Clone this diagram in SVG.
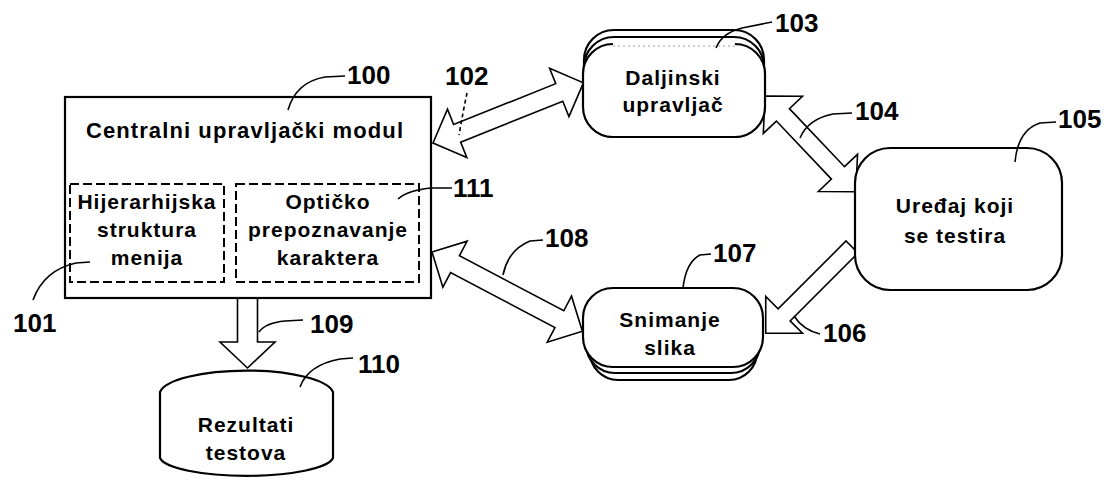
<svg xmlns="http://www.w3.org/2000/svg" width="1117" height="480" viewBox="0 0 1117 480">
  <style>
    .box { fill: #fff; stroke: #000; stroke-width: 2.2; }
    .dash { fill: none; stroke: #000; stroke-width: 2; stroke-dasharray: 9 4; }
    .arrow { fill: #fff; stroke: #000; stroke-width: 1.6; stroke-linejoin: miter; }
    .lead { fill: none; stroke: #000; stroke-width: 1.6; }
    .txt { font-family: "Liberation Sans", Arial, sans-serif; font-weight: bold; font-size: 21px; letter-spacing: 1px; text-anchor: middle; fill: #000; }
    .title { font-size: 22px; letter-spacing: 1.1px; }
    .num { font-family: "Liberation Sans", Arial, sans-serif; font-weight: bold; font-size: 26px; fill: #000; }
  </style>

  <!-- block arrows between the modules -->
  <g id="connectors">
    <!-- 102: central module <-> remote control -->
    <path class="arrow" transform="translate(433,143) rotate(-21.8)"
          d="M0,0 L26,-26 L26,-9.5 L136,-9.5 L136,-26 L162,0 L136,26 L136,9.5 L26,9.5 L26,26 Z"/>
    <!-- 104: remote control <-> device under test -->
    <path class="arrow" transform="translate(765,96) rotate(46.5)"
          d="M0,0 L26,-27 L26,-9 L106,-9 L106,-27 L132,0 L106,27 L106,9 L26,9 L26,27 Z"/>
    <!-- 106: device under test -> image capture -->
    <path class="arrow" transform="translate(852,247) rotate(135)"
          d="M0,-8.5 L96,-8.5 L96,-26 L122,0 L96,26 L96,8.5 L0,8.5 Z"/>
    <!-- 108: central module <-> image capture -->
    <path class="arrow" transform="translate(432,252) rotate(27.8)"
          d="M0,0 L26,-26 L26,-9.5 L144,-9.5 L144,-26 L170,0 L144,26 L144,9.5 L26,9.5 L26,26 Z"/>
    <!-- 109: central module -> test results -->
    <path class="arrow" transform="translate(247.5,298) rotate(90)"
          d="M0,-10 L44,-10 L44,-27.5 L70,0 L44,27.5 L44,10 L0,10 Z"/>
  </g>

  <!-- 100: central control module -->
  <g id="central-module">
    <rect class="box" x="65" y="97" width="366" height="201" stroke-width="2.5"/>
    <text class="txt title" x="245" y="138">Centralni upravljački modul</text>
  </g>

  <!-- 101: menu hierarchy -->
  <g id="menu-structure">
    <rect class="dash" x="70" y="184" width="154" height="98"/>
    <text class="txt" x="147" y="209">Hijerarhijska</text>
    <text class="txt" x="147" y="237">struktura</text>
    <text class="txt" x="147" y="265">menija</text>
  </g>

  <!-- 111: optical character recognition -->
  <g id="ocr">
    <rect class="dash" x="236" y="184" width="183" height="98"/>
    <text class="txt" x="328" y="209">Optičko</text>
    <text class="txt" x="328" y="237">prepoznavanje</text>
    <text class="txt" x="328" y="265">karaktera</text>
  </g>

  <!-- 103: remote control (stacked cards) -->
  <g id="remote-control">
    <rect class="box" x="584" y="30" width="180" height="100" rx="30"/>
    <rect class="box" x="584" y="37" width="180" height="100" rx="30"/>
    <rect x="583" y="44" width="182" height="93" rx="30" fill="#fff"/>
    <path fill="none" stroke="#000" stroke-width="2.2"
          d="M613,44 A30,30 0 0 0 583,74 L583,107 A30,30 0 0 0 613,137 L735,137 A30,30 0 0 0 765,107 L765,74 A30,30 0 0 0 735,44"/>
    <path fill="none" stroke="#999" stroke-width="1.2" stroke-dasharray="2 3" d="M613,46 L735,46"/>
    <text class="txt" x="673" y="85">Daljinski</text>
    <text class="txt" x="673" y="112">upravljač</text>
  </g>

  <!-- 105: device under test -->
  <g id="device-under-test">
    <rect class="box" x="855" y="148" width="207" height="142" rx="35"/>
    <text class="txt" x="955" y="213">Uređaj koji</text>
    <text class="txt" x="955" y="243">se testira</text>
  </g>

  <!-- 107: image capture (stacked cards) -->
  <g id="image-capture">
    <rect class="box" x="590" y="300" width="167" height="80" rx="28"/>
    <rect class="box" x="586" y="294" width="174" height="79" rx="29"/>
    <rect class="box" x="583" y="288" width="180" height="79" rx="30"/>
    <text class="txt" x="670" y="327">Snimanje</text>
    <text class="txt" x="670" y="355">slika</text>
  </g>

  <!-- 110: test results database -->
  <g id="test-results">
    <path class="box" d="M160,392 A87,24 0 0 1 333,392 L333,458 A87,20 0 0 1 160,458 Z"/>
    <text class="txt" x="246" y="432">Rezultati</text>
    <text class="txt" x="246" y="460">testova</text>
  </g>

  <!-- reference numerals with leader lines -->
  <g id="labels">
    <path class="lead" d="M345,76 L325,77 Q296,82 288,110"/>
    <path class="lead" d="M90,262 L76,263 Q44,270 33,300"/>
    <path class="lead" stroke-dasharray="4 3" d="M467,93 Q463,112 459,135"/>
    <path class="lead" d="M772,22 L742,28 Q722,33 716,48"/>
    <path class="lead" d="M852,113 L833,114 Q808,119 800,138"/>
    <path class="lead" d="M1056,122 L1040,123 Q1018,130 1015,162"/>
    <path class="lead" d="M452,188 L432,188 Q408,190 398,199"/>
    <path class="lead" d="M543,240 L530,241 Q508,250 503,275"/>
    <path class="lead" d="M711,254 L700,255 Q686,262 683,288"/>
    <path class="lead" d="M820,334 Q803,330 794,316"/>
    <path class="lead" d="M303,320 L285,321 Q265,323 259,332"/>
    <path class="lead" d="M353,358 L340,359 Q308,365 300,387"/>

    <text class="num" x="347" y="84">100</text>
    <text class="num" x="13" y="332">101</text>
    <text class="num" x="445" y="85">102</text>
    <text class="num" x="775" y="32">103</text>
    <text class="num" x="855" y="120">104</text>
    <text class="num" x="1058" y="128">105</text>
    <text class="num" x="823" y="342">106</text>
    <text class="num" x="713" y="262">107</text>
    <text class="num" x="545" y="247">108</text>
    <text class="num" x="310" y="333">109</text>
    <text class="num" x="358" y="373">110</text>
    <text class="num" x="453" y="197">111</text>
  </g>
</svg>
